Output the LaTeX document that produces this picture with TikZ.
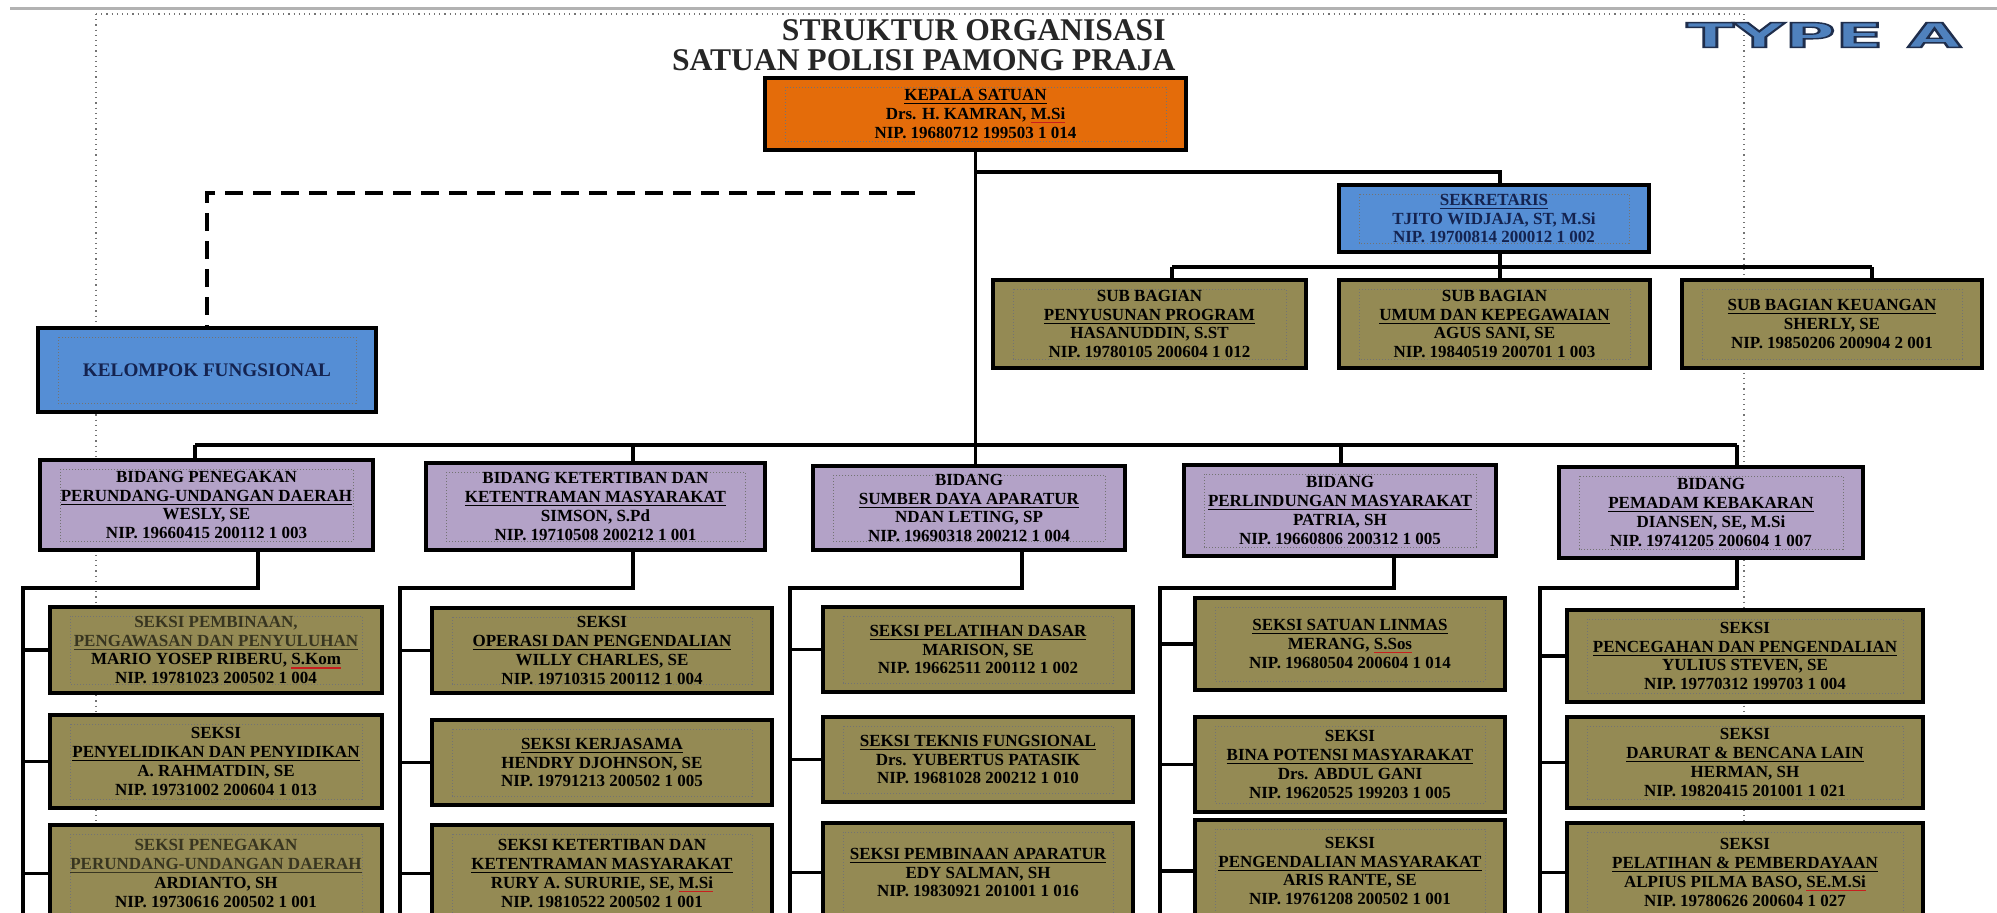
\documentclass[tikz,border=0pt]{standalone}
\usepackage{fontspec}
\setmainfont{Liberation Serif}
\newfontfamily\typefont{DejaVu Sans}
\definecolor{orangeK}{RGB}{228,108,10}
\definecolor{blueK}{RGB}{85,142,213}
\definecolor{oliveK}{RGB}{148,138,84}
\definecolor{lavK}{RGB}{179,162,199}
\definecolor{navyK}{RGB}{20,35,80}
\definecolor{typeblue}{RGB}{79,129,189}
\definecolor{splred}{RGB}{200,30,30}
\newcommand\spl[1]{\setbox0\hbox{#1}\leavevmode\rlap{\textcolor{splred}{\rule[-1.8pt]{\wd0}{0.6pt}}}\box0}
\newcommand\fd[1]{\textcolor{black!62!oliveK}{#1}}
\newcommand\outl[1]{\special{pdf:literal direct 0.12 0.18 0.30 RG 0.7 w 2 Tr}#1\special{pdf:literal direct 0 Tr}}
\begin{document}
\begin{tikzpicture}[x=0.5pt,y=-0.5pt,
  box/.style={draw=black, line width=2pt, inner sep=0pt, align=center, text=black,
    font=\fontsize{8.5}{9.4}\selectfont\bfseries,
    path picture={\draw[black!55, line width=0.5pt, dash pattern=on 0.6pt off 0.9pt]
      ([xshift=10pt,yshift=-4.5pt]path picture bounding box.north west) rectangle
      ([xshift=-10pt,yshift=4.5pt]path picture bounding box.south east);}},
  kbox/.style={box, fill=orangeK},
  bbox/.style={box, fill=blueK, text=navyK},
  obox/.style={box, fill=oliveK},
  lbox/.style={box, fill=lavK},
  conn/.style={draw=black, line width=1.8pt},
  dconn/.style={conn, dash pattern=on 9pt off 5pt},
  guide/.style={draw=black!55, line width=0.6pt, dotted},
  ttl/.style={font=\fontsize{15.8}{16}\selectfont\bfseries, text=black!85, inner sep=0pt}
]
\useasboundingbox (0,0) rectangle (1997,912);
\clip (0,0) rectangle (1997,912);
\fill[white] (0,0) rectangle (1997,912);

% page guides
\draw[draw=black!30, line width=1.5pt] (10,8) -- (1997,8);
\draw[guide] (96,14) -- (1744,14);
\draw[guide] (96,14) -- (96,930);
\draw[guide] (1744,14) -- (1744,930);

% titles
\node[ttl, anchor=base east] (t1) at (1166,40) {STRUKTUR ORGANISASI};
\node[ttl, anchor=base east] (t2) at (1176,70) {SATUAN POLISI PAMONG PRAJA};
\node[font=\typefont\bfseries\fontsize{17}{17}\selectfont, text=typeblue, inner sep=0pt] (typea) at (1824,35)
  {\scalebox{2.05}[1]{\outl{TYPE A}}};

% coordinates for connectors
\coordinate (sj) at (1500,172);
\coordinate (sbL) at (1172,267);
\coordinate (sbR) at (1872,267);
\coordinate (busL) at (195,445);
\coordinate (busR) at (1737,445);
\coordinate (d2) at (633,445);
\coordinate (d4) at (1341,445);
\coordinate (dr) at (915,193);
\coordinate (dl) at (207,193);
\coordinate (c1t) at (258,588); \coordinate (c1s) at (23,588);   \coordinate (c1b) at (23,930);
\coordinate (c2t) at (633,588); \coordinate (c2s) at (400,588);  \coordinate (c2b) at (400,930);
\coordinate (c3t) at (1022,588);\coordinate (c3s) at (790,588);  \coordinate (c3b) at (790,930);
\coordinate (c4t) at (1394,588);\coordinate (c4s) at (1160,588); \coordinate (c4b) at (1160,930);
\coordinate (c5t) at (1737,588);\coordinate (c5s) at (1540,588); \coordinate (c5b) at (1540,930);

% boxes
\node[kbox, minimum width=210.5pt, minimum height=36pt] (k) at (975.5,114)
  {\underline{KEPALA SATUAN}\\Drs. H. KAMRAN, \spl{M.Si}\\NIP. 19680712 199503 1 014};
\node[bbox, minimum width=155pt, minimum height=33.5pt] (sek) at (1494,218.5)
  {\underline{SEKRETARIS}\\TJITO WIDJAJA, ST, M.Si\\NIP. 19700814 200012 1 002};
\node[obox, minimum width=156.5pt, minimum height=44pt] (sub1) at (1149.5,324)
  {SUB BAGIAN\\\underline{PENYUSUNAN PROGRAM}\\HASANUDDIN, S.ST\\NIP. 19780105 200604 1 012};
\node[obox, minimum width=155.5pt, minimum height=44pt] (sub2) at (1494.5,324)
  {SUB BAGIAN\\\underline{UMUM DAN KEPEGAWAIAN}\\AGUS SANI, SE\\NIP. 19840519 200701 1 003};
\node[obox, minimum width=150pt, minimum height=44pt] (sub3) at (1832,324)
  {\underline{SUB BAGIAN KEUANGAN}\\SHERLY, SE\\NIP. 19850206 200904 2 001};
\node[bbox, minimum width=169pt, minimum height=42pt, font=\fontsize{9.6}{10}\selectfont\bfseries] (kel) at (207,370)
  {KELOMPOK FUNGSIONAL};

\node[lbox, minimum width=166.5pt, minimum height=45pt] (b1) at (206.5,505)
  {BIDANG PENEGAKAN\\\underline{PERUNDANG-UNDANGAN DAERAH}\\WESLY, SE\\NIP. 19660415 200112 1 003};
\node[lbox, minimum width=169.5pt, minimum height=43.5pt] (b2) at (595.5,506.5)
  {BIDANG KETERTIBAN DAN\\\underline{KETENTRAMAN MASYARAKAT}\\SIMSON, S.Pd\\NIP. 19710508 200212 1 001};
\node[lbox, minimum width=156pt, minimum height=42pt] (b3) at (969,508)
  {BIDANG\\\underline{SUMBER DAYA APARATUR}\\NDAN LETING, SP\\NIP. 19690318 200212 1 004};
\node[lbox, minimum width=156pt, minimum height=45.5pt] (b4) at (1340,510.5)
  {BIDANG\\\underline{PERLINDUNGAN MASYARAKAT}\\PATRIA, SH\\NIP. 19660806 200312 1 005};
\node[lbox, minimum width=152pt, minimum height=45.5pt] (b5) at (1711,512.5)
  {BIDANG\\\underline{PEMADAM KEBAKARAN}\\DIANSEN, SE, M.Si\\NIP. 19741205 200604 1 007};

% column 1
\node[obox, minimum width=166pt, minimum height=43pt] (s1a) at (216,650)
  {\fd{SEKSI PEMBINAAN,}\\\fd{\underline{PENGAWASAN DAN PENYULUHAN}}\\MARIO YOSEP RIBERU, \spl{S.Kom}\\NIP. 19781023 200502 1 004};
\node[obox, minimum width=166pt, minimum height=46.5pt] (s1b) at (216,761.5)
  {SEKSI\\\underline{PENYELIDIKAN DAN PENYIDIKAN}\\A. RAHMATDIN, SE\\NIP. 19731002 200604 1 013};
\node[obox, minimum width=166pt, minimum height=48.5pt] (s1c) at (216,873.5)
  {\fd{SEKSI PENEGAKAN}\\\fd{\underline{PERUNDANG-UNDANGAN DAERAH}}\\ARDIANTO, SH\\NIP. 19730616 200502 1 001};
% column 2
\node[obox, minimum width=170pt, minimum height=42.5pt] (s2a) at (602,650.5)
  {SEKSI\\\underline{OPERASI DAN PENGENDALIAN}\\WILLY CHARLES, SE\\NIP. 19710315 200112 1 004};
\node[obox, minimum width=170pt, minimum height=42.5pt] (s2b) at (602,762.5)
  {\underline{SEKSI KERJASAMA}\\HENDRY DJOHNSON, SE\\NIP. 19791213 200502 1 005};
\node[obox, minimum width=170pt, minimum height=48.5pt] (s2c) at (602,873.5)
  {SEKSI KETERTIBAN DAN\\\underline{KETENTRAMAN MASYARAKAT}\\RURY A. SURURIE, SE, \spl{M.Si}\\NIP. 19810522 200502 1 001};
% column 3
\node[obox, minimum width=155pt, minimum height=42.5pt] (s3a) at (978,649.5)
  {\underline{SEKSI PELATIHAN DASAR}\\MARISON, SE\\NIP. 19662511 200112 1 002};
\node[obox, minimum width=155pt, minimum height=42.5pt] (s3b) at (978,759.5)
  {\underline{SEKSI TEKNIS FUNGSIONAL}\\Drs. YUBERTUS PATASIK\\NIP. 19681028 200212 1 010};
\node[obox, minimum width=155pt, minimum height=49.5pt] (s3c) at (978,872.5)
  {\underline{SEKSI PEMBINAAN APARATUR}\\EDY SALMAN, SH\\NIP. 19830921 201001 1 016};
% column 4
\node[obox, minimum width=155pt, minimum height=46pt] (s4a) at (1350,644)
  {\underline{SEKSI SATUAN LINMAS}\\MERANG, \spl{S.Sos}\\NIP. 19680504 200604 1 014};
\node[obox, minimum width=155pt, minimum height=47.5pt] (s4b) at (1350,764.5)
  {SEKSI\\\underline{BINA POTENSI MASYARAKAT}\\Drs. ABDUL GANI\\NIP. 19620525 199203 1 005};
\node[obox, minimum width=155pt, minimum height=51pt] (s4c) at (1350,871)
  {SEKSI\\\underline{PENGENDALIAN MASYARAKAT}\\ARIS RANTE, SE\\NIP. 19761208 200502 1 001};
% column 5
\node[obox, minimum width=178pt, minimum height=46pt] (s5a) at (1745,656)
  {SEKSI\\\underline{PENCEGAHAN DAN PENGENDALIAN}\\YULIUS STEVEN, SE\\NIP. 19770312 199703 1 004};
\node[obox, minimum width=178pt, minimum height=45.5pt] (s5b) at (1745,762.5)
  {SEKSI\\\underline{DARURAT \& BENCANA LAIN}\\HERMAN, SH\\NIP. 19820415 201001 1 021};
\node[obox, minimum width=178pt, minimum height=49.5pt] (s5c) at (1745,872.5)
  {SEKSI\\\underline{PELATIHAN \& PEMBERDAYAAN}\\ALPIUS PILMA BASO, \spl{SE.M.Si}\\NIP. 19780626 200604 1 027};

% connectors: top part
\draw[conn] (k.south) -- (k.south |- b3.north);
\draw[conn] (sj -| k.south) -- (sj) -- (sj |- sek.north);
\draw[conn] (sj |- sek.south) -- (sj |- sbL);
\draw[conn] (sbL) -- (sbR);
\draw[conn] (sbL) -- (sbL |- sub1.north);
\draw[conn] (sj |- sbL) -- (sj |- sub2.north);
\draw[conn] (sbR) -- (sbR |- sub3.north);
\draw[dconn] (dr) -- (dl) -- (dl |- kel.north);

% bidang bus
\draw[conn] (busL) -- (busR);
\draw[conn] (busL) -- (busL |- b1.north);
\draw[conn] (d2) -- (d2 |- b2.north);
\draw[conn] (d4) -- (d4 |- b4.north);
\draw[conn] (busR) -- (busR |- b5.north);

% columns
\draw[conn] (b1.south -| c1t) -- (c1t) -- (c1s) -- (c1b);
\draw[conn] (c1s) |- (s1a.west); \draw[conn] (c1s) |- (s1b.west); \draw[conn] (c1s) |- (s1c.west);
\draw[conn] (b2.south -| c2t) -- (c2t) -- (c2s) -- (c2b);
\draw[conn] (c2s) |- (s2a.west); \draw[conn] (c2s) |- (s2b.west); \draw[conn] (c2s) |- (s2c.west);
\draw[conn] (b3.south -| c3t) -- (c3t) -- (c3s) -- (c3b);
\draw[conn] (c3s) |- (s3a.west); \draw[conn] (c3s) |- (s3b.west); \draw[conn] (c3s) |- (s3c.west);
\draw[conn] (b4.south -| c4t) -- (c4t) -- (c4s) -- (c4b);
\draw[conn] (c4s) |- (s4a.west); \draw[conn] (c4s) |- (s4b.west); \draw[conn] (c4s) |- (s4c.west);
\draw[conn] (b5.south -| c5t) -- (c5t) -- (c5s) -- (c5b);
\draw[conn] (c5s) |- (s5a.west); \draw[conn] (c5s) |- (s5b.west); \draw[conn] (c5s) |- (s5c.west);
\end{tikzpicture}
\end{document}
